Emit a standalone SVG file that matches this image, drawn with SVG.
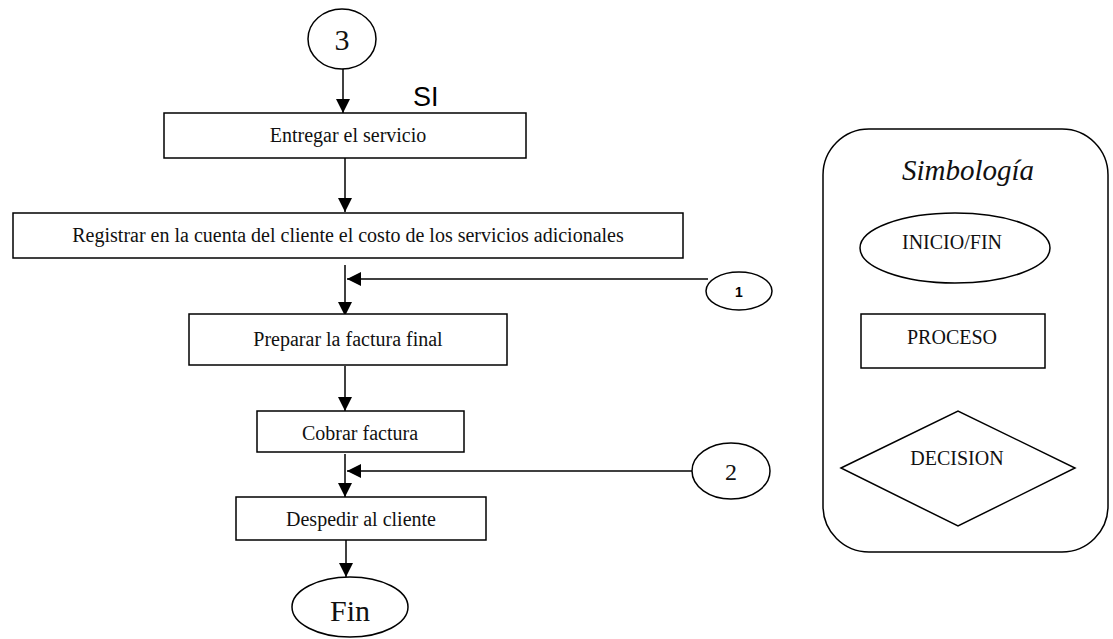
<svg xmlns="http://www.w3.org/2000/svg" width="1113" height="639" viewBox="0 0 1113 639">
<style>
.s{fill:#fff;stroke:#000;stroke-width:1.5}
.l{fill:none;stroke:#000;stroke-width:1.5}
.t{font-family:"Liberation Serif","Times New Roman",serif;font-size:20px;fill:#111;text-anchor:middle}
</style>
<defs>
<marker id="a" markerWidth="14" markerHeight="14" refX="14" refY="7" orient="auto" markerUnits="userSpaceOnUse">
<path d="M0,0 L14,7 L0,14 Z" fill="#000"/>
</marker>
</defs>
<rect width="1113" height="639" fill="#fff"/>
<g id="connectors">
<line class="l" x1="343" y1="69" x2="343" y2="113" marker-end="url(#a)"/>
<line class="l" x1="345" y1="158" x2="345" y2="212" marker-end="url(#a)"/>
<line class="l" x1="345" y1="265" x2="345" y2="316" marker-end="url(#a)"/>
<line class="l" x1="708" y1="279" x2="347" y2="279" marker-end="url(#a)"/>
<line class="l" x1="345" y1="366" x2="345" y2="411" marker-end="url(#a)"/>
<line class="l" x1="345" y1="454" x2="345" y2="497" marker-end="url(#a)"/>
<line class="l" x1="692" y1="471" x2="347" y2="471" marker-end="url(#a)"/>
<line class="l" x1="346" y1="540" x2="346" y2="577" marker-end="url(#a)"/>
</g>
<g id="n3">
<ellipse class="s" cx="342" cy="39" rx="34" ry="30"/>
<text class="t" x="342" y="50" style="font-size:30px">3</text>
</g>
<g id="si">
<text x="413" y="106" style="font-family:'Liberation Sans',Arial,sans-serif;font-size:27px">SI</text>
</g>
<g id="entregar">
<rect class="s" x="164" y="113" width="362" height="45"/>
<text class="t" x="348" y="142">Entregar el servicio</text>
</g>
<g id="registrar">
<rect class="s" x="13" y="213" width="670" height="45"/>
<text class="t" x="348" y="242">Registrar en la cuenta del cliente el costo de los servicios adicionales</text>
</g>
<g id="n1">
<ellipse class="s" cx="739" cy="291" rx="33" ry="19"/>
<text x="739" y="297" style="font-family:'Liberation Sans',Arial,sans-serif;font-size:14px;font-weight:bold;text-anchor:middle">1</text>
</g>
<g id="preparar">
<rect class="s" x="189" y="314" width="318" height="51"/>
<text class="t" x="348" y="346">Preparar la factura final</text>
</g>
<g id="cobrar">
<rect class="s" x="257" y="411" width="207" height="41"/>
<text class="t" x="360" y="440">Cobrar factura</text>
</g>
<g id="n2">
<ellipse class="s" cx="731" cy="471" rx="39" ry="28"/>
<text class="t" x="731" y="480" style="font-size:24px">2</text>
</g>
<g id="despedir">
<rect class="s" x="236" y="497" width="250" height="43"/>
<text class="t" x="361" y="526">Despedir al cliente</text>
</g>
<g id="fin">
<ellipse class="s" cx="350" cy="607" rx="58" ry="30"/>
<text class="t" x="350" y="621" style="font-size:30px">Fin</text>
</g>
<g id="legend">
<rect class="s" x="823" y="129" width="285" height="423" rx="46" ry="46"/>
<text class="t" x="968" y="180" style="font-size:29px;font-style:italic">Simbología</text>
<ellipse class="s" cx="955" cy="248" rx="95" ry="35"/>
<text class="t" x="952" y="249">INICIO/FIN</text>
<rect class="s" x="861" y="314" width="184" height="54"/>
<text class="t" x="952" y="344">PROCESO</text>
<polygon class="s" points="841,468 958,411 1075,468 958,526"/>
<text class="t" x="957" y="465">DECISION</text>
</g>
</svg>
